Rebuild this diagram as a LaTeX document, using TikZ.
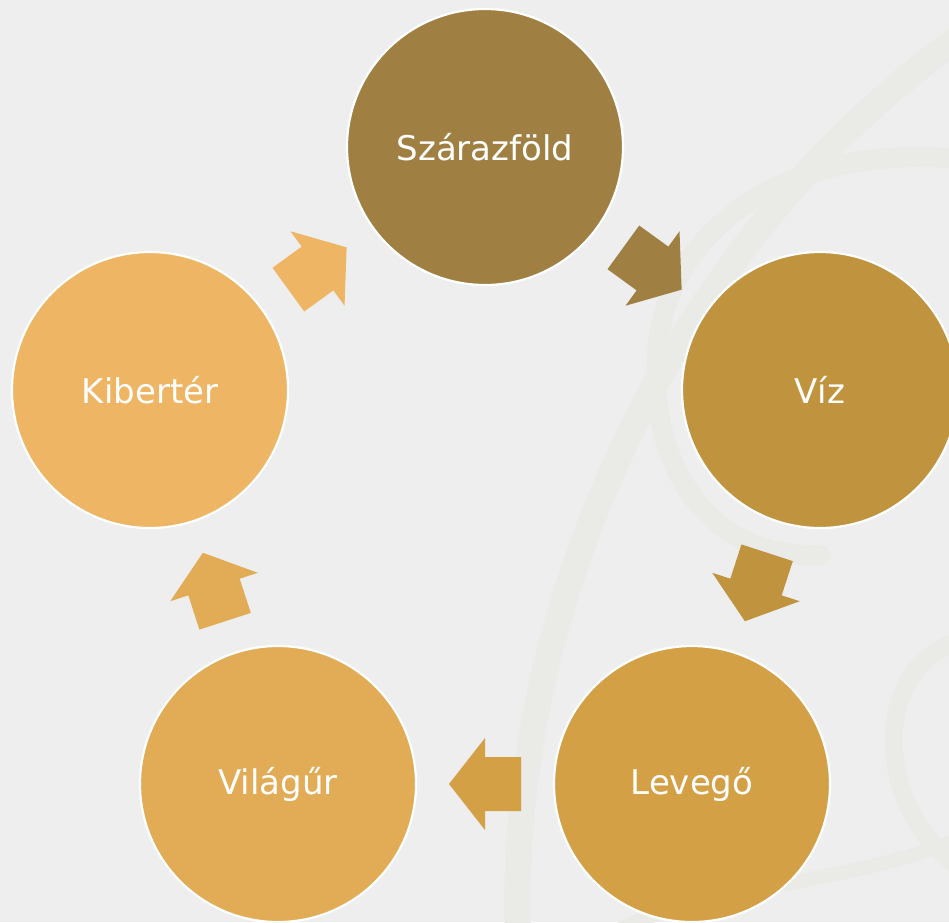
\documentclass[tikz,border=0pt]{standalone}
\usepackage{fontspec}
\setmainfont{DejaVu Sans}
\usetikzlibrary{calc}
\definecolor{bg}{HTML}{EEEEEE}
\definecolor{swirl}{HTML}{EAEAE7}
\definecolor{cA}{HTML}{A08042}
\definecolor{cB}{HTML}{C0943F}
\definecolor{cC}{HTML}{D4A046}
\definecolor{cD}{HTML}{E2AB55}
\definecolor{cE}{HTML}{EEB664}
\tikzset{
  stage/.style={circle, draw=white, line width=2.2pt, minimum size=276pt, inner sep=0pt,
    text=white, font=\fontsize{34}{40}\selectfont},
  swirlline/.style={draw=swirl, line width=26pt, line cap=round},
  pics/barrow/.style={code={\fill (36,0) -- (0,46) -- (0,27) -- (-36,27) -- (-36,-27) -- (0,-27) -- (0,-46) -- cycle;}}
}
\begin{document}
\begin{tikzpicture}[x=1pt,y=-1pt]
\fill[bg] (0,0) rectangle (949,922);
\useasboundingbox (0,0) rectangle (949,922);
% faint background swirls
\begin{scope}
\clip (0,0) rectangle (949,922);
\draw[swirlline] (518,940) .. controls (505,600) and (680,230) .. (970,30);
\draw[swirlline, line width=20pt] (970,160) .. controls (800,140) and (680,220) .. (660,330)
  .. controls (640,450) and (700,560) .. (820,555);
\draw[swirlline, line width=18pt] (980,640) .. controls (870,640) and (860,820) .. (980,880);
\draw[swirlline, line width=14pt] (600,940) .. controls (700,880) and (850,890) .. (980,830);
\end{scope}
% stages
\node[stage, fill=cA] (s1) at (485,147) {Szárazföld};
\node[stage, fill=cB] (s2) at (820,390) {Víz};
\node[stage, fill=cC] (s3) at (692,784) {Levegő};
\node[stage, fill=cD] (s4) at (278,784) {Világűr};
\node[stage, fill=cE] (s5) at (150,390) {Kibertér};
% arrows
\foreach \a/\b/\c in {s1/s2/cA, s2/s3/cB, s3/s4/cC, s4/s5/cD, s5/s1/cE}{
  \path let \p1=($(\b.center)-(\a.center)$), \n1={atan2(\y1,\x1)} in
    pic[rotate=\n1, fill=\c] at ($(\a.center)!0.5!(\b.center)$) {barrow};
}
\end{tikzpicture}
\end{document}
